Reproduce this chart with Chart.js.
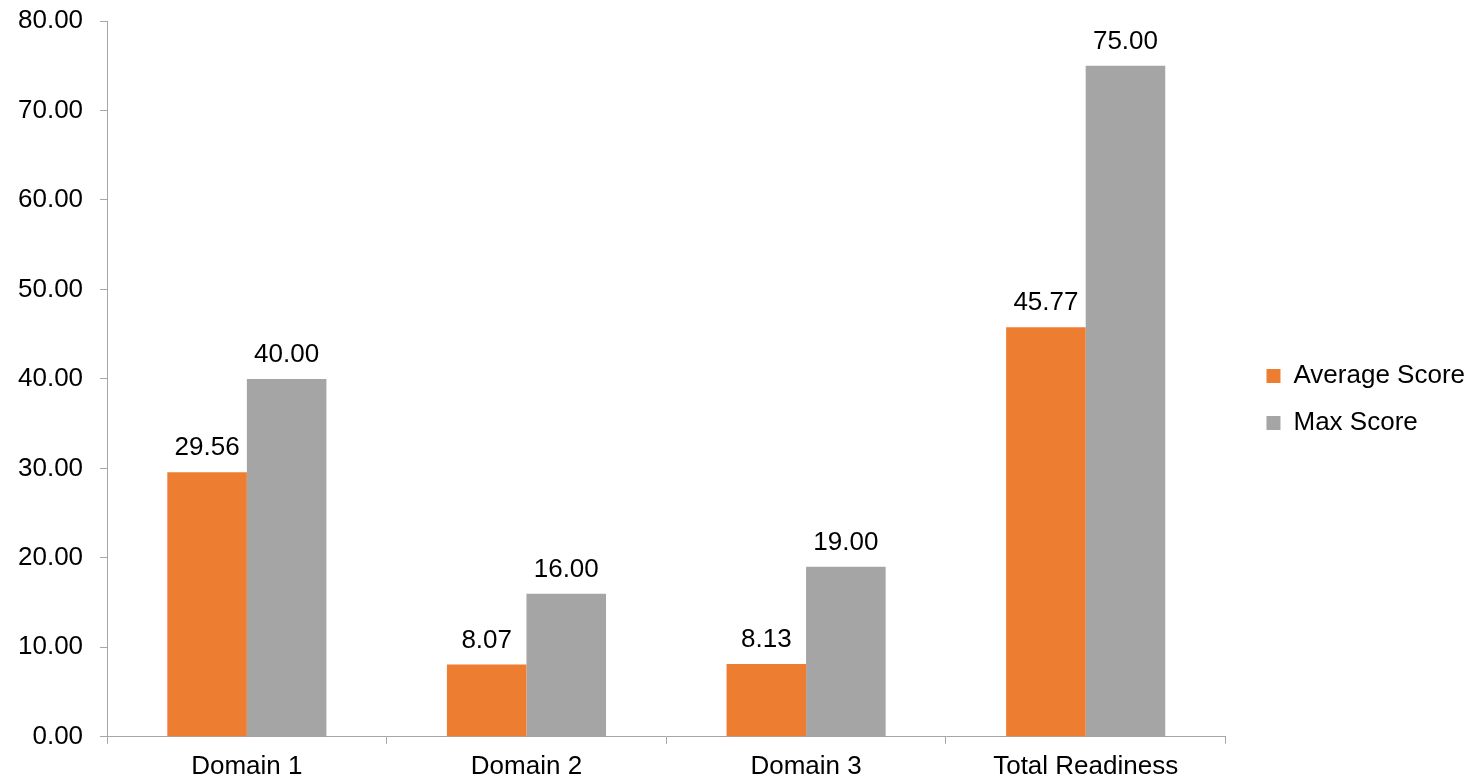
<!DOCTYPE html>
<html>
<head>
<meta charset="utf-8">
<script src="https://cdn.jsdelivr.net/npm/chart.js@4.4.1/dist/chart.umd.min.js"></script>
<style>
  html, body { margin: 0; padding: 0; background: #fff; }
  #wrap { width: 1468px; height: 782px; position: relative; }
</style>
</head>
<body>
<div id="wrap"><canvas id="myChart"></canvas></div>
<script>
// Readiness scores by domain
const categories = ["Domain 1", "Domain 2", "Domain 3", "Total Readiness"];
const averageScore = [29.56, 8.07, 8.13, 45.77];
const maxScore = [40.00, 16.00, 19.00, 75.00];
const yTicks = { min: 0, max: 80, step: 10 };

const axisGray = "#a6a6a6";

Chart.defaults.font.family = "'Liberation Sans', Arial, sans-serif";
Chart.defaults.font.size = 26;
Chart.defaults.color = "#000";

// value labels above each bar
const barLabels = {
  id: "barLabels",
  afterDatasetsDraw(chart, args, opts) {
    const ctx = chart.ctx;
    ctx.save();
    ctx.font = "26px 'Liberation Sans', Arial, sans-serif";
    ctx.fillStyle = "#000";
    ctx.textAlign = "center";
    ctx.textBaseline = "alphabetic";
    chart.data.datasets.forEach((ds, i) => {
      chart.getDatasetMeta(i).data.forEach((bar, j) => {
        ctx.fillText(ds.data[j].toFixed(2), bar.x, bar.y - opts.gap);
      });
    });
    ctx.restore();
  }
};

// push the legend a bit to the right of the plot
const legendShift = {
  id: "legendShift",
  afterLayout(chart, args, opts) {
    chart.legend.left += opts.x;
    chart.legend.right += opts.x;
  }
};

const data = {
  labels: categories,
  datasets: [
    {
      label: "Average Score",
      backgroundColor: "#ed7d31",
      borderWidth: 0,
      data: averageScore
    },
    {
      label: "Max Score",
      backgroundColor: "#a5a5a5",
      borderWidth: 0,
      data: maxScore
    }
  ]
};

const config = {
  type: "bar",
  data: data,
  plugins: [barLabels, legendShift],
  options: {
    responsive: true,
    maintainAspectRatio: false,
    animation: false,
    categoryPercentage: 0.569,
    barPercentage: 1,
    layout: {
      padding: { left: 1, right: 13, top: 10, bottom: -7 }
    },
    plugins: {
      legend: {
        position: "right",
        labels: {
          boxWidth: 14,
          boxHeight: 14,
          padding: 21,
          color: "#000",
          font: { size: 26 }
        }
      },
      tooltip: { enabled: false },
      barLabels: { gap: 17 },
      legendShift: { x: 20 }
    },
    scales: {
      x: {
        grid: {
          drawOnChartArea: false,
          drawTicks: true,
          tickLength: 7,
          color: axisGray
        },
        border: { display: true, color: axisGray, width: 1 },
        ticks: { padding: 7, maxRotation: 0 }
      },
      y: {
        min: yTicks.min,
        max: yTicks.max,
        afterFit: (scale) => { scale.paddingTop = 21; },
        grid: {
          drawOnChartArea: false,
          drawTicks: true,
          tickLength: 7,
          color: axisGray
        },
        border: { display: true, color: axisGray, width: 1 },
        ticks: {
          stepSize: yTicks.step,
          padding: 17,
          callback: (v) => v.toFixed(2)
        }
      }
    }
  }
};

const myChart = new Chart(document.getElementById("myChart"), config);
</script>
</body>
</html>
